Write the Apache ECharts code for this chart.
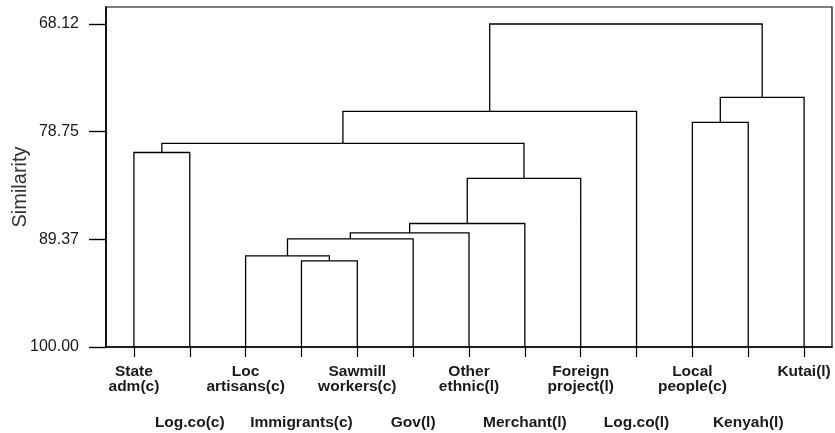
<!DOCTYPE html>
<html>
<head>
<meta charset="utf-8">
<script src="https://cdn.jsdelivr.net/npm/echarts@6/dist/echarts.min.js"></script>
<style>
html,body{margin:0;padding:0;background:#fff;}
#chart{width:835px;height:433px;}
</style>
</head>
<body>
<div id="chart"></div>
<script>
// Leaves (left to right)
const leafLabels = ['State\nadm(c)', 'Log.co(c)', 'Loc\nartisans(c)', 'Immigrants(c)', 'Sawmill\nworkers(c)', 'Gov(l)', 'Other\nethnic(l)', 'Merchant(l)', 'Foreign\nproject(l)', 'Log.co(l)', 'Local\npeople(c)', 'Kenyah(l)', 'Kutai(l)'];
// Merges: node ids < 13 are leaves, 13+k is the k-th merge
const mergeLeft = [3, 2, 14, 15, 16, 17, 0, 19, 20, 10, 22, 21];
const mergeRight = [4, 13, 5, 6, 7, 8, 1, 18, 9, 11, 12, 23];
const mergeSimilarity = [91.50, 91.01, 89.33, 88.74, 87.81, 83.36, 80.80, 79.91, 76.74, 77.83, 75.36, 68.12];
const yTickValues = [68.12, 78.75, 89.37, 100.00];
const leafSimilarity = 100;

const nodeX = [], nodeH = [];
leafLabels.forEach((l, i) => { nodeX.push(i); nodeH.push(leafSimilarity); });
const segs = [];
mergeSimilarity.forEach((h, k) => {
  const l = mergeLeft[k], r = mergeRight[k];
  segs.push({coords: [[nodeX[l], nodeH[l]], [nodeX[l], h], [nodeX[r], h], [nodeX[r], nodeH[r]]]});
  nodeX.push((nodeX[l] + nodeX[r]) / 2);
  nodeH.push(h);
});

const FONT = '"Liberation Sans", Arial, Helvetica, sans-serif';
const chart = echarts.init(document.getElementById('chart'), null, {renderer: 'canvas'});
chart.setOption({
  animation: false,
  backgroundColor: '#fff',
  grid: {left: 106, right: 3, top: 7, bottom: 86, show: true, borderColor: '#000', borderWidth: 1.2, containLabel: false, outerBoundsMode: 'none'},
  xAxis: [
    {
      type: 'category', position: 'bottom', data: leafLabels, boundaryGap: true,
      axisLine: {show: true, onZero: false, lineStyle: {color: '#000', width: 1.6}},
      axisTick: {show: true, alignWithLabel: true, interval: 0, length: 10, lineStyle: {color: '#000', width: 1.2}},
      axisLabel: {interval: (i) => i % 2 === 0, margin: 17, fontFamily: FONT, fontSize: 15.5, fontWeight: 'bold', color: '#1a1a1a', lineHeight: 15, hideOverlap: false},
      splitLine: {show: false}
    },
    {
      type: 'category', position: 'bottom', data: leafLabels, boundaryGap: true,
      axisLine: {show: false, onZero: false}, axisTick: {show: false},
      axisLabel: {interval: (i) => i % 2 === 1, margin: 68, fontFamily: FONT, fontSize: 15.5, fontWeight: 'bold', color: '#1a1a1a', lineHeight: 15, hideOverlap: false},
      splitLine: {show: false}
    },
    {
      type: 'value', position: 'bottom', show: false, min: -0.5, max: leafLabels.length - 0.5,
      axisLine: {onZero: false},
      splitLine: {show: false}
    }
  ],
  yAxis: {
    type: 'value', inverse: true, min: 66.44, max: 100,
    axisLine: {show: true, onZero: false, lineStyle: {color: '#000', width: 1.6}},
    axisTick: {show: true, customValues: yTickValues, length: 17, lineStyle: {color: '#000', width: 1.4}},
    axisLabel: {customValues: yTickValues, formatter: (v) => Number(v).toFixed(2), margin: 27, fontFamily: FONT, fontSize: 16, color: '#1a1a1a'},
    splitLine: {show: false},
    name: 'Similarity', nameLocation: 'middle', nameGap: 76, nameMoveOverlap: false,
    nameTextStyle: {fontFamily: FONT, fontSize: 20, color: '#333', padding: [0, 20, 0, 0]}
  },
  series: [{
    type: 'lines', coordinateSystem: 'cartesian2d', xAxisIndex: 2, yAxisIndex: 0,
    polyline: true, silent: true,
    lineStyle: {color: '#000', width: 1.3, opacity: 1, curveness: 0},
    data: segs
  }]
});
</script>
</body>
</html>
